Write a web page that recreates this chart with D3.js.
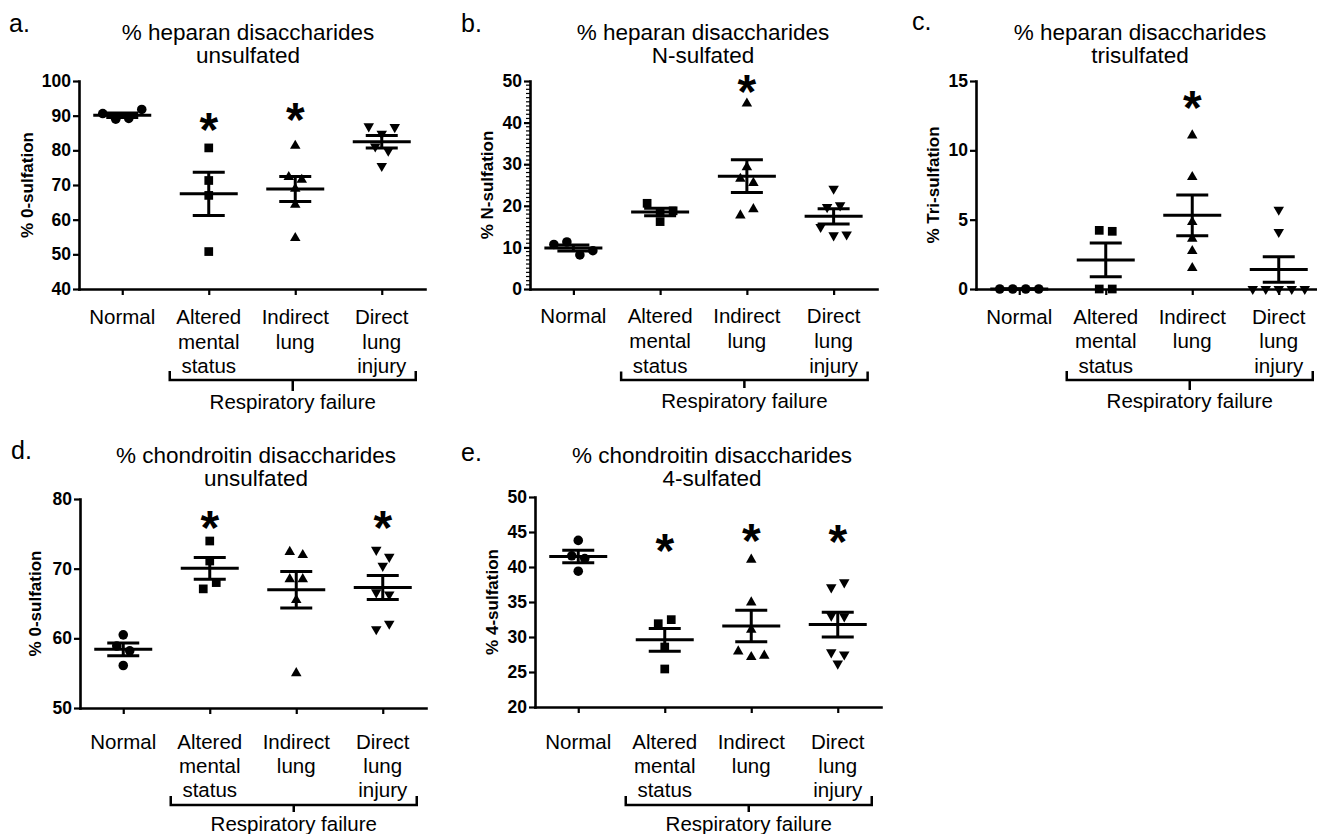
<!DOCTYPE html>
<html>
<head>
<meta charset="utf-8">
<script src="https://cdn.jsdelivr.net/npm/d3@7.9.0/dist/d3.min.js"></script>
<style>
  body { margin: 0; background: #fff; }
  svg text { font-family: "Liberation Sans", Arial, sans-serif; fill: #000; }
</style>
</head>
<body>
<svg id="fig" width="1317" height="834"></svg>
<script>
// groups on the x axis (one entry per label line)
const groups = ['Normal', 'Altered mental status', 'Indirect lung', 'Direct lung injury'];
const groupLines = [['Normal'], ['Altered', 'mental', 'status'], ['Indirect', 'lung'], ['Direct', 'lung', 'injury']];
const bracketText = 'Respiratory failure';

// a. heparan unsulfated
const hepUnsulfated = [
  [90.6, 89.0, 89.2, 91.8],
  [80.7, 71.3, 67.0, 50.8],
  [81.3, 72.3, 71.5, 68.9, 64.3, 54.7],
  [86.9, 84.8, 86.7, 81.1, 79.9, 75.5],
];
const hepUnsulfatedStars = [null, 89.2, 92.1, null];
const hepUnsulfatedTicks = [40, 50, 60, 70, 80, 90, 100];

// b. heparan N-sulfated
const hepNSulfated = [
  [10.7, 11.3, 8.2, 9.2],
  [20.6, 18.5, 16.2, 18.8],
  [44.6, 29.3, 26.5, 25.5, 17.7, 19.2],
  [24.1, 19.7, 20.1, 14.9, 12.9, 13.1],
];
const hepNSulfatedStars = [null, null, 50.2, null];
const hepNSulfatedTicks = [0, 10, 20, 30, 40, 50];

// c. heparan trisulfated
const hepTriSulfated = [
  [0, 0, 0, 0],
  [4.23, 4.16, 0, 0],
  [11.08, 8.08, 4.83, 3.63, 2.74, 1.51],
  [5.72, 4.11, 0, 0, 0, 0, 0],
];
const hepTriSulfatedStars = [null, null, 13.87, null];
const hepTriSulfatedTicks = [0, 5, 10, 15];

// d. chondroitin unsulfated
const chonUnsulfated = [
  [60.5, 58.9, 58.2, 56.1],
  [73.97, 71.1, 67.1, 68.0],
  [72.4, 71.96, 68.5, 68.5, 65.5, 55.0],
  [72.7, 71.7, 70.4, 66.6, 66.3, 61.3, 62.1],
];
const chonUnsulfatedStars = [null, 77.46, null, 77.46];
const chonUnsulfatedTicks = [50, 60, 70, 80];

// e. chondroitin 4-sulfated
const chon4Sulfated = [
  [43.8, 41.6, 41.2, 39.4],
  [31.9, 32.48, 28.57, 25.43],
  [41.05, 34.95, 31.05, 27.95, 27.14, 27.33],
  [37.1, 37.8, 33.05, 32.95, 27.8, 26.2, 27.5],
];
const chon4SulfatedStars = [null, 43.9, 45.3, 45.2];
const chon4SulfatedTicks = [20, 25, 30, 35, 40, 45, 50];

const symbols = [d3.symbolCircle, d3.symbolSquare, d3.symbolTriangle, d3.symbolTriangle];
const symbolSizes = [72, 76, 48, 48];

const svg = d3.select('#fig');

const panels = [
  { letter: 'a.', title: ['% heparan disaccharides', 'unsulfated'], yLabel: '% 0-sulfation',
    values: hepUnsulfated, stars: hepUnsulfatedStars, ticks: hepUnsulfatedTicks, minor: false,
    left: 79, right: 425, top: 81, bottom: 289, titleX: 248, titleY: 32, letterX: 9, letterY: 23,
    yLabelX: 27, labelY: 316.5, lineH: 24.5, brTop: 371, brY: 380, stemY: 391, footY: 401 },
  { letter: 'b.', title: ['% heparan disaccharides', 'N-sulfated'], yLabel: '% N-sulfation',
    values: hepNSulfated, stars: hepNSulfatedStars, ticks: hepNSulfatedTicks, minor: true,
    left: 530, right: 877, top: 81, bottom: 289, titleX: 703, titleY: 32, letterX: 461, letterY: 23,
    yLabelX: 487, labelY: 315, lineH: 25, brTop: 371.5, brY: 380, stemY: 388, footY: 400 },
  { letter: 'c.', title: ['% heparan disaccharides', 'trisulfated'], yLabel: '% Tri-sulfation',
    values: hepTriSulfated, stars: hepTriSulfatedStars, ticks: hepTriSulfatedTicks, minor: false,
    left: 976, right: 1322, top: 81, bottom: 289, titleX: 1140, titleY: 32, letterX: 912, letterY: 21,
    yLabelX: 933, labelY: 316, lineH: 24.5, brTop: 371, brY: 380, stemY: 390, footY: 400 },
  { letter: 'd.', title: ['% chondroitin disaccharides', 'unsulfated'], yLabel: '% 0-sulfation',
    values: chonUnsulfated, stars: chonUnsulfatedStars, ticks: chonUnsulfatedTicks, minor: false,
    left: 80, right: 426, top: 499, bottom: 708, titleX: 256, titleY: 455, letterX: 11, letterY: 450,
    yLabelX: 35, labelY: 741.7, lineH: 24, brTop: 796, brY: 805, stemY: 812, footY: 823 },
  { letter: 'e.', title: ['% chondroitin disaccharides', '4-sulfated'], yLabel: '% 4-sulfation',
    values: chon4Sulfated, stars: chon4SulfatedStars, ticks: chon4SulfatedTicks, minor: false,
    left: 535, right: 881, top: 497, bottom: 707, titleX: 712, titleY: 455, letterX: 461, letterY: 452,
    yLabelX: 492, labelY: 741.7, lineH: 24, brTop: 796, brY: 805, stemY: 812, footY: 823 },
];

// spread points with nearly equal values side by side, like the GraphPad scatter
function dodge(vals, y, thresh, step) {
  const order = vals.map((_, i) => i).sort((a, b) => vals[b] - vals[a]);
  const off = vals.map(() => 0);
  let cluster = [order[0]];
  const flush = () => {
    cluster.sort((a, b) => a - b);
    cluster.forEach((k, j) => { off[k] = (j - (cluster.length - 1) / 2) * step; });
  };
  for (let i = 1; i < order.length; i++) {
    if (Math.abs(y(vals[order[i]]) - y(vals[order[i - 1]])) < thresh) cluster.push(order[i]);
    else { flush(); cluster = [order[i]]; }
  }
  flush();
  return off;
}

function drawPanel(p) {
  const g = svg.append('g');
  const x = d3.scalePoint().domain(groups).range([p.left, p.right]).padding(0.5);
  const y = d3.scaleLinear().domain(d3.extent(p.ticks)).range([p.bottom, p.top]);

  g.append('text').attr('x', p.letterX).attr('y', p.letterY).attr('dominant-baseline', 'central')
    .style('font-size', '25px').text(p.letter);
  p.title.forEach((t, i) => {
    g.append('text').attr('x', p.titleX).attr('y', p.titleY + i * 23).attr('text-anchor', 'middle')
      .attr('dominant-baseline', 'central').style('font-size', '22.5px').text(t);
  });

  // y axis
  const ya = g.append('g').attr('transform', `translate(${p.left},0)`)
    .call(d3.axisLeft(y).tickValues(p.ticks).tickSize(6).tickSizeOuter(0).tickPadding(2));
  ya.attr('font-size', null).attr('font-family', null);
  ya.select('.domain').attr('stroke-width', 2.6).attr('stroke-linecap', 'square');
  ya.selectAll('.tick line').attr('stroke-width', 2.2);
  ya.selectAll('.tick text').style('font-size', '17.5px').style('font-weight', 'bold').attr('fill', '#000');
  if (p.minor) {
    const minorTicks = d3.range(y.domain()[0], y.domain()[1]).filter((v) => v % 10 !== 0);
    g.selectAll('.minor').data(minorTicks).join('line')
      .attr('x1', p.left - 4).attr('x2', p.left).attr('y1', (d) => y(d)).attr('y2', (d) => y(d))
      .attr('stroke', '#000').attr('stroke-width', 1.2);
  }
  g.append('text').attr('transform', `translate(${p.yLabelX},${(p.top + p.bottom) / 2}) rotate(-90)`)
    .attr('text-anchor', 'middle').attr('dominant-baseline', 'central')
    .style('font-size', '17px').style('font-weight', 'bold').text(p.yLabel);

  // x axis
  const xa = g.append('g').attr('transform', `translate(0,${p.bottom})`)
    .call(d3.axisBottom(x).tickSize(6).tickSizeOuter(0).tickFormat(''));
  xa.select('.domain').attr('stroke-width', 2.6).attr('stroke-linecap', 'square');
  xa.selectAll('.tick line').attr('stroke-width', 2.2);

  groups.forEach((grp, gi) => {
    groupLines[gi].forEach((line, li) => {
      g.append('text').attr('x', x(grp)).attr('y', p.labelY + li * p.lineH)
        .attr('text-anchor', 'middle').attr('dominant-baseline', 'central')
        .style('font-size', '20.5px').text(line);
    });
  });

  // bracket under the respiratory failure groups
  const bl = x(groups[1]) - 39;
  const br = x(groups[3]) + 34;
  const bc = (bl + br) / 2;
  g.append('path')
    .attr('d', `M${bl},${p.brTop}V${p.brY}H${br}V${p.brTop}M${bc},${p.brY}V${p.stemY}`)
    .attr('fill', 'none').attr('stroke', '#000').attr('stroke-width', 2.5);
  g.append('text').attr('x', bc).attr('y', p.footY).attr('text-anchor', 'middle')
    .attr('dominant-baseline', 'central').style('font-size', '20.5px').text(bracketText);

  // points, mean and SEM
  p.values.forEach((vals, gi) => {
    const cx = x(groups[gi]);
    const off = dodge(vals, y, 7.5, 13);
    const sym = d3.symbol().type(symbols[gi]).size(symbolSizes[gi]);
    g.selectAll(null).data(vals).join('path')
      .attr('d', sym)
      .attr('transform', (d, i) => `translate(${cx + off[i]},${y(d)})${gi === 3 ? ' rotate(180)' : ''}`)
      .attr('fill', '#000');

    const m = d3.mean(vals);
    const sem = d3.deviation(vals) / Math.sqrt(vals.length);
    const eb = g.append('g').attr('stroke', '#000').attr('stroke-width', 3).attr('fill', 'none');
    eb.append('line').attr('x1', cx - 29).attr('x2', cx + 29).attr('y1', y(m)).attr('y2', y(m));
    eb.append('line').attr('x1', cx).attr('x2', cx).attr('y1', y(m - sem)).attr('y2', y(m + sem));
    [m - sem, m + sem].forEach((v) => {
      eb.append('line').attr('x1', cx - 16).attr('x2', cx + 16).attr('y1', y(v)).attr('y2', y(v));
    });

    const s = p.stars[gi];
    if (s !== null) {
      g.append('text').attr('x', cx).attr('y', y(s) + 0.57 * 48).attr('text-anchor', 'middle')
        .style('font-size', '48px').style('font-weight', 'bold').text('*');
    }
  });
}

panels.forEach(drawPanel);
</script>
</body>
</html>
